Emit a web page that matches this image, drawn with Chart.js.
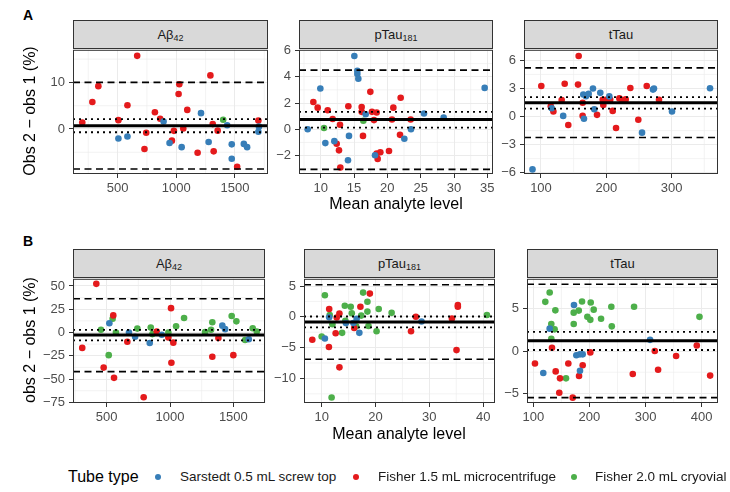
<!DOCTYPE html>
<html>
<head>
<meta charset="utf-8">
<script src="https://cdn.jsdelivr.net/npm/chart.js@4.4.1/dist/chart.umd.min.js"></script>
<style>
  body { margin: 0; width: 730px; height: 492px; background: #fff; position: relative; overflow: hidden;
         font-family: "Liberation Sans", Arial, sans-serif; }
  canvas { position: absolute; }
  .strip { position: absolute; box-sizing: border-box; background: #d9d9d9; border: 1px solid #333;
           text-align: center; font-size: 13px; color: #1a1a1a; line-height: 27px; }
  .strip sub { font-size: 9px; vertical-align: -2px; }
  .txt { position: absolute; white-space: nowrap; line-height: 1; transform: translate(-50%, -50%); }
  .ytitle { transform: translate(-50%, -50%) rotate(-90deg); font-size: 16px; }
  .tag { position: absolute; font-weight: bold; font-size: 14px; line-height: 1; }
  .dot { position: absolute; width: 6px; height: 6px; border-radius: 50%; transform: translate(-50%, -50%); }
</style>
</head>
<body>
<script>
// tube types and their colours (Set1)
const tubeTypes = ['Sarstedt 0.5 mL screw top', 'Fisher 1.5 mL microcentrifuge', 'Fisher 2.0 mL cryovial'];
const tubeColors = ['#377eb8', '#e41a1c', '#4daf4a'];
const analytes = ['Aβ<sub>42</sub>', 'pTau<sub>181</sub>', 'tTau'];

// points are [mean analyte level, difference %]
// lines are [bias, ci low, ci high, loa low, loa high]

// ---- panel A ----
const aAbSarstedt = [[507,-2.05],[584,-1.6],[892,1.6],[943,-3.0],[1046,-3.9],[1211,3.4],[1276,-2.8],[1434,0.8],
  [1473,-3.3],[1473,-6.4],[1576,-3.2],[1604,-3.9],[1705,0.5],[1700,-0.6]];
const aAbFisher15 = [[199,1.4],[285,5.8],[336,9.2],[507,1.9],[584,5.1],[667,15.7],[744,-0.8],[729,-4.3],[818,3.6],
  [863,2.2],[963,-2.5],[980,-0.4],[1026,9.6],[1020,7.5],[1060,0.1],[1094,4.1],[1182,-5.1],[1291,11.5],[1319,-4.8],
  [1311,1.05],[1353,-0.35],[1519,-8.1],[1700,1.8]];
const aAbFisher20 = [[1400,2.0]];
const aAbLines = [0.7, -0.7, 2.1, -8.6, 10.0];
const aAbXTicks = [500, 1000, 1500];
const aAbYTicks = [0, 10];

const aPtSarstedt = [[8.05,0],[9.95,3.1],[10.7,-1.05],[12.05,-0.9],[14.1,-2.35],[14.25,-0.5],[15.05,5.58],[15.5,4.45],
  [15.5,4.2],[15.65,3.85],[16.75,1.15],[18.15,-1.97],[22.55,-0.72],[23.55,0],[25.5,1.2],[28.45,0.9],[34.6,3.15]];
const aPtFisher15 = [[8.9,2.08],[9.55,1.65],[11.05,1.45],[11.8,0.78],[12.4,-1.1],[12.75,-1.6],[12.9,0.35],[12.95,-2.9],
  [14.15,1.75],[16.15,1.7],[16.15,1.33],[16.35,-0.5],[17.45,2.85],[17.7,1.33],[18.0,0.7],[18.4,1.28],[18.4,-1.85],
  [18.55,-2.25],[18.95,-1.75],[20.25,-1.65],[20.7,0.75],[20.9,1.65],[22.0,2.4],[21.9,-0.42],[23.5,0.75]];
const aPtFisher20 = [[10.5,0.1],[16.4,0.65]];
const aPtLines = [0.75, 0.13, 1.33, -3.05, 4.5];
const aPtXTicks = [10, 15, 20, 25, 30, 35];
const aPtYTicks = [-2, 0, 2, 4, 6];

const aTtSarstedt = [[87,-5.65],[116.4,0.88],[134,0.07],[164.8,2.36],[165.8,-0.24],[168.9,2.18],[173,2.42],[179.6,3.0],
  [181.6,0.78],[190.8,2.53],[204.6,2.15],[254.7,-1.72],[271.5,2.88],[273,2.99],[300.6,0.53],[358.8,3.02]];
const aTtFisher15 = [[100.5,3.27],[115,1.1],[119,0.53],[131.7,1.76],[136.3,3.5],[141.8,-0.9],[156.7,3.41],[157.7,6.46],
  [163.8,1.47],[163.8,0.07],[185.8,0.18],[194.5,1.79],[195.4,1.23],[199.5,1.79],[204.6,1.72],[206,1.8],[209.8,0.6],
  [214.9,-1.22],[220,1.94],[224.5,1.76],[229.7,1.83],[236.8,3.05],[249,-0.35],[261.9,3.26],[280.7,1.79]];
const aTtFisher20 = [];
const aTtLines = [1.47, 0.84, 2.07, -2.24, 5.2];
const aTtXTicks = [100, 200, 300];
const aTtYTicks = [-6, -3, 0, 3, 6];

// ---- panel B ----
const bAbSarstedt = [[521,9.9],[676,0],[724,-4.6],[840,-11.2],[935,-2.4],[1413,7.4],[1435,3.6],[1622,-7.3]];
const bAbFisher15 = [[307,-16.5],[418,52.3],[476,-37.7],[552,18.4],[558,-48.7],[663,-9.9],[792,-69.5],[895,1.1],
  [987,-5.3],[1008,26.2],[1011,-32.4],[1026,-10.9],[1334,-26],[1382,-5.9],[1500,-24.3]];
const bAbFisher20 = [[455,2.9],[516,-24.3],[547,14.8],[573,0],[742,4.2],[848,5.3],[861,-1.7],[987,0],[1048,6.7],
  [1111,15.6],[1277,0.4],[1324,2.9],[1334,11],[1487,17.7],[1524,12],[1593,-8],[1653,4.6],[1685,1.1]];
const bAbLines = [-2.75, -8.4, 2.9, -42.0, 36.2];
const bAbXTicks = [500, 1000, 1500];
const bAbYTicks = [-75, -50, -25, 0, 25, 50];

const bPtSarstedt = [[10.6,-3.51],[11.4,-0.06],[14.5,-1.02],[15.9,-1.02],[16.5,-0.32],[17.0,-2.6],[28.55,-0.75]];
const bPtFisher15 = [[8.26,-3.73],[11.4,1.28],[11.35,-4.9],[12.6,-2.66],[12.8,-0.1],[13.3,0.53],[13.3,-8.2],
  [16.05,-1.82],[17.2,1.64],[18.95,3.77],[26.6,-2.35],[27.5,0],[34.2,-0.27],[35.3,1.9],[35.3,1.64],[35.05,-5.4]];
const bPtFisher20 = [[10.0,-3.19],[10.6,3.5],[11.5,0.3],[11.85,-13.1],[12.0,-1.2],[13.8,-2.6],[14.3,1.8],[14.4,-0.64],
  [15.4,1.64],[15.6,0.58],[16.4,-1.55],[17.7,3.93],[17.35,0.2],[18.5,2.44],[18.5,0.85],[18.7,-1.5],[20.2,-2.35],
  [20.6,1.27],[23.0,0.64],[40.7,0.3]];
const bPtLines = [-0.86, -1.7, 0.05, -6.9, 5.2];
const bPtXTicks = [10, 20, 30, 40];
const bPtYTicks = [-10, -5, 0, 5];

const bTtSarstedt = [[117.8,-2.6],[129.2,2.64],[172.5,5.43],[176.7,-0.5],[183.2,-2.33],[183.2,-0.39],[188,-0.39],[308,1.32]];
const bTtFisher15 = [[103,-1.47],[133.3,0.38],[139.9,-2.4],[147.6,-3.22],[146.3,-4.92],[162.4,-1.47],[170.2,-5.5],
  [181.5,-2.95],[188,-1.67],[201.6,-0.16],[277.2,-2.71],[316.4,0],[322.3,-2.21],[354.4,-0.58],[391.2,0.66],[415,-2.9]];
const bTtFisher20 = [[121.4,5.8],[129.2,6.9],[132.1,3.18],[138,2.56],[132.1,1.43],[139.3,4.8],[158.3,-3.22],[172,4.53],
  [172,3.18],[181,4.77],[186.8,5.85],[196.3,4.03],[201.6,3.68],[202.3,5.73],[207.6,4.88],[220.7,3.8],[239,5.23],
  [239.8,2.91],[279.5,5.23],[396,4.03]];
const bTtLines = [1.2, 0.12, 2.25, -5.5, 7.87];
const bTtXTicks = [100, 200, 300, 400];
const bTtYTicks = [-5, 0, 5];

// panel boxes in page pixels [left, top, right, bottom] and axis limits
const panels = [
  { title: analytes[0], series: [aAbSarstedt, aAbFisher15, aAbFisher20], lines: aAbLines, xTicks: aAbXTicks, yTicks: aAbYTicks, x: [120, 1782], y: [-9.66, 17.0], box: [73, 48, 268, 174] },
  { title: analytes[1], series: [aPtSarstedt, aPtFisher15, aPtFisher20], lines: aPtLines, xTicks: aPtXTicks, yTicks: aPtYTicks, x: [6.75, 35.85], y: [-3.4, 6.05], box: [299, 48, 493, 174] },
  { title: analytes[2], series: [aTtSarstedt, aTtFisher15, aTtFisher20], lines: aTtLines, xTicks: aTtXTicks, yTicks: aTtYTicks, x: [74, 371], y: [-6.14, 7.13], box: [524, 48, 718, 174] },
  { title: analytes[0], series: [bAbSarstedt, bAbFisher15, bAbFisher20], lines: bAbLines, xTicks: bAbXTicks, yTicks: bAbYTicks, x: [234, 1750], y: [-75.7, 57.7], box: [73, 277, 265, 403] },
  { title: analytes[1], series: [bPtSarstedt, bPtFisher15, bPtFisher20], lines: bPtLines, xTicks: bPtXTicks, yTicks: bPtYTicks, x: [6.72, 42.2], y: [-13.99, 6.17], box: [304, 277, 495, 403] },
  { title: analytes[2], series: [bTtSarstedt, bTtFisher15, bTtFisher20], lines: bTtLines, xTicks: bTtXTicks, yTicks: bTtYTicks, x: [88.8, 429], y: [-6.13, 8.52], box: [527, 277, 718, 403] },
];

Chart.defaults.font.family = '"Liberation Sans", Arial, sans-serif';

const fmt = v => (v < 0 ? '\u2212' + Math.abs(v) : String(v));

// ggplot style minor grid, halfway between the breaks
const minorGrid = {
  id: 'minorGrid',
  beforeDatasetsDraw(chart) {
    const { ctx, chartArea: a, scales } = chart;
    ctx.save();
    ctx.strokeStyle = '#ebebeb';
    ctx.lineWidth = 0.6;
    ['x', 'y'].forEach(id => {
      const s = scales[id];
      const t = s.ticks.map(k => k.value);
      const step = t.length > 1 ? t[1] - t[0] : 0;
      if (!step) return;
      for (let v = t[0] - step / 2; v <= s.max; v += step) {
        if (v < s.min) continue;
        const p = s.getPixelForValue(v);
        ctx.beginPath();
        if (id === 'x') { ctx.moveTo(p, a.top); ctx.lineTo(p, a.bottom); }
        else { ctx.moveTo(a.left, p); ctx.lineTo(a.right, p); }
        ctx.stroke();
      }
    });
    ctx.restore();
  }
};

const panelBorder = {
  id: 'panelBorder',
  afterDatasetsDraw(chart) {
    const { ctx, chartArea: a } = chart;
    ctx.save();
    ctx.strokeStyle = '#333';
    ctx.lineWidth = 1;
    ctx.strokeRect(a.left + 0.5, a.top + 0.5, a.right - a.left - 1, a.bottom - a.top - 1);
    ctx.restore();
  }
};

function addText(html, cx, cy, css) {
  const d = document.createElement('div');
  d.className = 'txt';
  d.innerHTML = html;
  d.style.left = cx + 'px';
  d.style.top = cy + 'px';
  Object.assign(d.style, css || {});
  document.body.appendChild(d);
  return d;
}

function drawPanel(p) {
  const [x0, y0, x1, y1] = p.box;
  const padL = 45, padT = 10, padR = 15, padB = 26;

  const strip = document.createElement('div');
  strip.className = 'strip';
  strip.innerHTML = p.title;
  Object.assign(strip.style, { left: x0 + 'px', top: (y0 - 28) + 'px', width: (x1 - x0) + 'px', height: '29px' });
  document.body.appendChild(strip);

  const cv = document.createElement('canvas');
  cv.width = x1 - x0 + padL + padR;
  cv.height = y1 - y0 + padT + padB;
  cv.style.left = (x0 - padL) + 'px';
  cv.style.top = (y0 - padT) + 'px';
  document.body.appendChild(cv);

  const [bias, ciLo, ciHi, loaLo, loaHi] = p.lines;
  const hline = (v, w, dash) => ({
    type: 'line', data: [{ x: p.x[0], y: v }, { x: p.x[1], y: v }],
    borderColor: '#000', borderWidth: w, borderDash: dash, pointRadius: 0, order: 0
  });

  const datasets = p.series.map((pts, i) => ({
    type: 'scatter', label: tubeTypes[i],
    data: pts.map(([x, y]) => ({ x, y })),
    pointRadius: 3.3, pointBackgroundColor: tubeColors[i], pointBorderWidth: 0, order: 1
  }));
  datasets.push(hline(bias, 3, []));
  datasets.push(hline(ciLo, 1.8, [2, 4]), hline(ciHi, 1.8, [2, 4]));
  datasets.push(hline(loaLo, 1.6, [7, 4.5]), hline(loaHi, 1.6, [7, 4.5]));

  const tickFont = { size: 13 };
  new Chart(cv, {
    type: 'scatter',
    data: { datasets },
    options: {
      responsive: false, animation: false, events: [],
      layout: { padding: { left: 0, top: padT, right: padR, bottom: 0 } },
      plugins: { legend: { display: false }, tooltip: { enabled: false } },
      scales: {
        x: {
          type: 'linear', min: p.x[0], max: p.x[1],
          afterBuildTicks: s => { s.ticks = p.xTicks.map(v => ({ value: v })); },
          afterFit: s => { s.height = padB; },
          ticks: { autoSkip: false, maxRotation: 0, padding: 3, callback: fmt, color: '#4d4d4d', font: tickFont },
          grid: { color: '#ebebeb', lineWidth: 1, tickColor: '#333', tickLength: 4 },
          border: { display: false }
        },
        y: {
          type: 'linear', min: p.y[0], max: p.y[1],
          afterBuildTicks: s => { s.ticks = p.yTicks.map(v => ({ value: v })); },
          afterFit: s => { s.width = padL; },
          ticks: { autoSkip: false, padding: 4, callback: fmt, color: '#4d4d4d', font: tickFont },
          grid: { color: '#ebebeb', lineWidth: 1, tickColor: '#333', tickLength: 4 },
          border: { display: false }
        }
      }
    },
    plugins: [minorGrid, panelBorder]
  });
}

panels.forEach(drawPanel);

// titles and tags
const tagA = document.createElement('div'); tagA.className = 'tag'; tagA.textContent = 'A';
tagA.style.left = '23px'; tagA.style.top = '8px'; document.body.appendChild(tagA);
const tagB = document.createElement('div'); tagB.className = 'tag'; tagB.textContent = 'B';
tagB.style.left = '23px'; tagB.style.top = '234px'; document.body.appendChild(tagB);

addText('Obs 2 \u2212 obs 1 (%)', 30, 111).classList.add('ytitle');
addText('obs 2 \u2212 obs 1 (%)', 30, 340).classList.add('ytitle');
addText('Mean analyte level', 396, 204, { fontSize: '16px' });
addText('Mean analyte level', 399, 434, { fontSize: '16px' });

// legend
const legendY = 477;
addText('Tube type', 68, legendY, { fontSize: '16px', transform: 'translate(0,-50%)' });
const legendDotX = [158, 356, 574];
const legendTextX = [180, 378, 595];
tubeTypes.forEach((name, i) => {
  const d = document.createElement('div');
  d.className = 'dot';
  d.style.background = tubeColors[i];
  d.style.left = legendDotX[i] + 'px';
  d.style.top = legendY + 'px';
  document.body.appendChild(d);
  addText(name, legendTextX[i], legendY, { fontSize: '13.5px', transform: 'translate(0,-50%)', color: '#1a1a1a' });
});
</script>
</body>
</html>
